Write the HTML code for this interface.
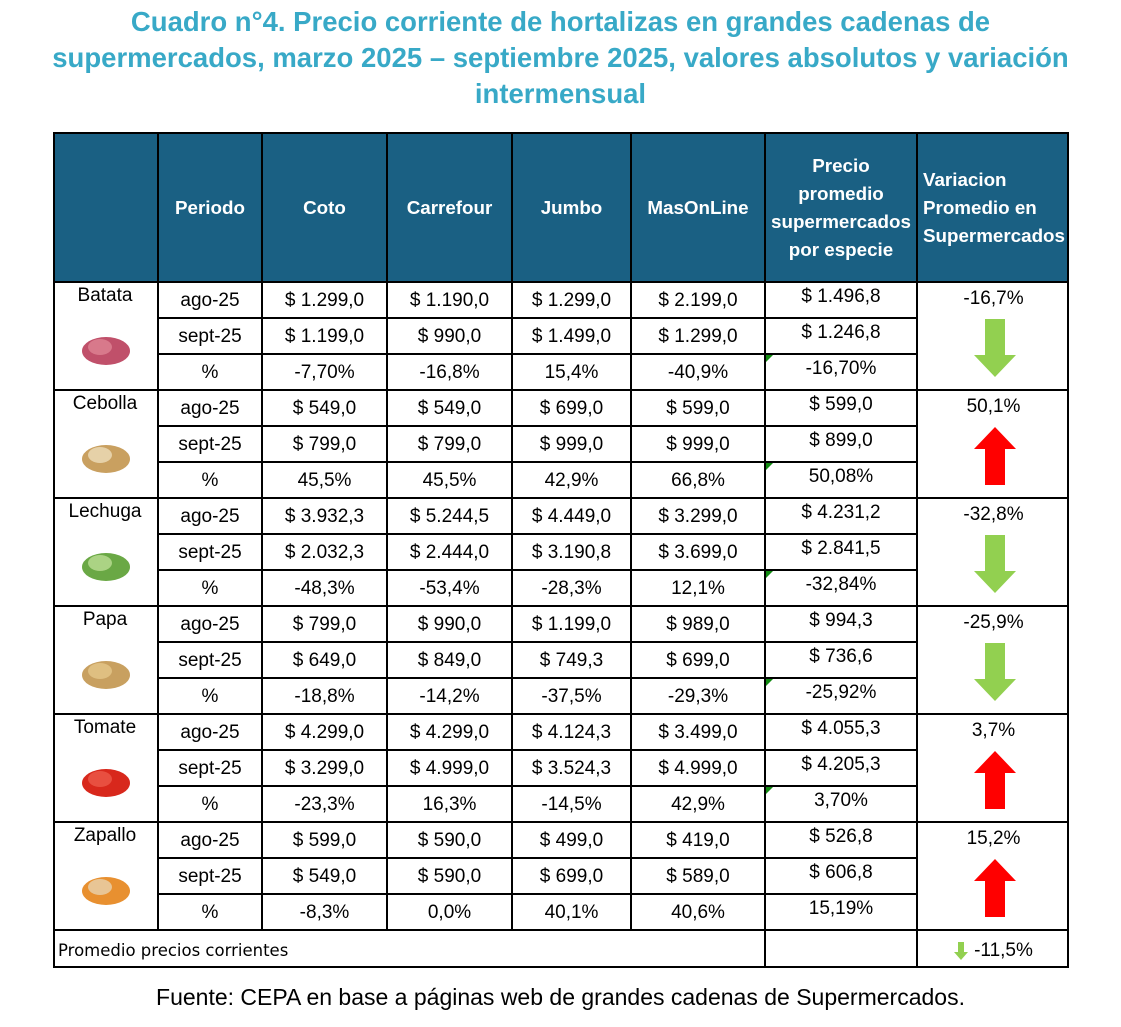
<!DOCTYPE html>
<html><head><meta charset="utf-8">
<style>
body{margin:0;width:1121px;height:1027px;background:#fff;font-family:"Liberation Sans",sans-serif;position:relative;overflow:hidden}
.t{position:absolute;left:0;width:1121px;text-align:center;color:#38a9c7;font-weight:bold;font-size:27.5px;line-height:36px;top:4px}
.c{position:absolute;box-sizing:border-box;display:flex;align-items:center;justify-content:center;text-align:center;font-size:19px;color:#000;padding-top:2px}
.h{background:#1a6083;color:#fff;font-weight:bold;font-size:18.8px;line-height:28px;border-right:2px solid #000;border-bottom:2px solid #000}
.src{position:absolute;top:984px;left:0;width:1121px;text-align:center;font-size:23px}
</style></head><body>
<div class="t">Cuadro n°4. Precio corriente de hortalizas en grandes cadenas de<br>supermercados, marzo 2025 – septiembre 2025, valores absolutos y variación<br>intermensual</div>
<div id="tbl"></div>
<div class="src">Fuente: CEPA en base a páginas web de grandes cadenas de Supermercados.</div>
<script>
const headers=["","Periodo","Coto","Carrefour","Jumbo","MasOnLine","Precio<br>promedio<br>supermercados<br>por especie","Variacion<br>Promedio en<br>Supermercados"];
const species=["Batata","Cebolla","Lechuga","Papa","Tomate","Zapallo"];
const ago=[["$ 1.299,0","$ 1.190,0","$ 1.299,0","$ 2.199,0","$ 1.496,8"],["$ 549,0","$ 549,0","$ 699,0","$ 599,0","$ 599,0"],["$ 3.932,3","$ 5.244,5","$ 4.449,0","$ 3.299,0","$ 4.231,2"],["$ 799,0","$ 990,0","$ 1.199,0","$ 989,0","$ 994,3"],["$ 4.299,0","$ 4.299,0","$ 4.124,3","$ 3.499,0","$ 4.055,3"],["$ 599,0","$ 590,0","$ 499,0","$ 419,0","$ 526,8"]];
const sept=[["$ 1.199,0","$ 990,0","$ 1.499,0","$ 1.299,0","$ 1.246,8"],["$ 799,0","$ 799,0","$ 999,0","$ 999,0","$ 899,0"],["$ 2.032,3","$ 2.444,0","$ 3.190,8","$ 3.699,0","$ 2.841,5"],["$ 649,0","$ 849,0","$ 749,3","$ 699,0","$ 736,6"],["$ 3.299,0","$ 4.999,0","$ 3.524,3","$ 4.999,0","$ 4.205,3"],["$ 549,0","$ 590,0","$ 699,0","$ 589,0","$ 606,8"]];
const pct=[["-7,70%","-16,8%","15,4%","-40,9%","-16,70%"],["45,5%","45,5%","42,9%","66,8%","50,08%"],["-48,3%","-53,4%","-28,3%","12,1%","-32,84%"],["-18,8%","-14,2%","-37,5%","-29,3%","-25,92%"],["-23,3%","16,3%","-14,5%","42,9%","3,70%"],["-8,3%","0,0%","40,1%","40,6%","15,19%"]];
const variation=["-16,7%","50,1%","-32,8%","-25,9%","3,7%","15,2%"];
const xs=[53,159,263,388,513,632,766,918,1069];
const top0=132,hh=151,rh=36;
const T=document.getElementById('tbl');
function cell(x,y,w,h,html,cls,name){const d=document.createElement('div');d.className='c '+(cls||'');d.style.cssText=`left:${x}px;top:${y}px;width:${w}px;height:${h}px;`;d.innerHTML=html;


T.appendChild(d);return d;}
const o=document.createElement('div');o.style.cssText=`position:absolute;left:${xs[0]}px;top:${top0}px;width:${xs[8]-xs[0]}px;height:${hh+18*rh+37}px;border:2px solid #000;box-sizing:border-box;z-index:5;pointer-events:none`;


T.appendChild(o);
headers.forEach((h,i)=>{const d=cell(xs[i],top0,xs[i+1]-xs[i],hh,h,'h','header-'+i);if(i==7){d.style.justifyContent='flex-start';d.style.textAlign='left';d.style.paddingLeft='5px';}});
const colors=[["#c0506a","#e28a9a"],["#c9a060","#f2e6c8"],["#6aa845","#c8e6a0"],["#c8a060","#e8cc90"],["#d8281c","#f06050"],["#e89030","#e8dcc0"]];
species.forEach((s,g)=>{
 const y0=top0+hh+g*3*rh;
 const sp=cell(xs[0],y0,xs[1]-xs[0],3*rh,`<div style="position:absolute;top:2px;width:100%">${s}</div>
 <svg width="60" height="50" style="position:absolute;top:42px;left:23px"><ellipse cx="30" cy="26" rx="24" ry="14" fill="${colors[g][0]}"/><ellipse cx="24" cy="22" rx="12" ry="8" fill="${colors[g][1]}" opacity=".7"/></svg>`,'','species-'+s.toLowerCase());
 sp.style.borderRight='2px solid #000';sp.style.borderBottom='2px solid #000';
 const rows=[["ago-25",ago[g]],["sept-25",sept[g]],["%",pct[g]]];
 rows.forEach((r,k)=>{
  const y=y0+k*rh;
  const vals=[r[0]].concat(r[1]);
  vals.forEach((v,j)=>{const d=cell(xs[j+1],y,xs[j+2]-xs[j+1],rh,v,'','cell-'+s.toLowerCase()+'-'+k+'-'+j);d.style.borderRight='2px solid #000';d.style.borderBottom='2px solid #000';
   if(j==5){d.style.alignItems='flex-start';d.style.paddingTop='3px';if(k==2&&g<5)d.innerHTML+='<span style="position:absolute;left:0;top:0;width:0;height:0;border-top:7px solid #118a11;border-right:7px solid transparent"></span>';}});
 });
 const up=pct[g][4].charAt(0)!='-';
 const v=cell(xs[7],y0,xs[8]-xs[7],3*rh,`<div style="position:absolute;top:5px;width:100%">${variation[g]}</div>
 <svg width="42" height="58" style="position:absolute;top:36px;left:56px">${up?'<polygon points="21,0 42,22 31,22 31,58 11,58 11,22 0,22" fill="#ff0000"/>':'<polygon points="11,0 31,0 31,36 42,36 21,58 0,36 11,36" fill="#92d050"/>'}</svg>`,'','variation-'+s.toLowerCase());
 v.style.borderBottom='2px solid #000';
});
const fy=top0+hh+18*rh;
const f1=cell(xs[0],fy,xs[6]-xs[0],37,'Promedio precios corrientes','','footer-label');f1.style.justifyContent='flex-start';f1.style.paddingLeft='5px';f1.style.fontFamily='"DejaVu Sans",sans-serif';f1.style.borderRight='2px solid #000';f1.style.fontSize='16.5px';
const f2=cell(xs[6],fy,xs[7]-xs[6],37,'','','footer-empty');f2.style.borderRight='2px solid #000';
cell(xs[7],fy,xs[8]-xs[7],37,'<svg width="14" height="18" style="margin-right:6px"><polygon points="4,0 10,0 10,10 14,10 7,18 0,10 4,10" fill="#92d050"/></svg>-11,5%','','footer-variation');
</script>
</body></html>
